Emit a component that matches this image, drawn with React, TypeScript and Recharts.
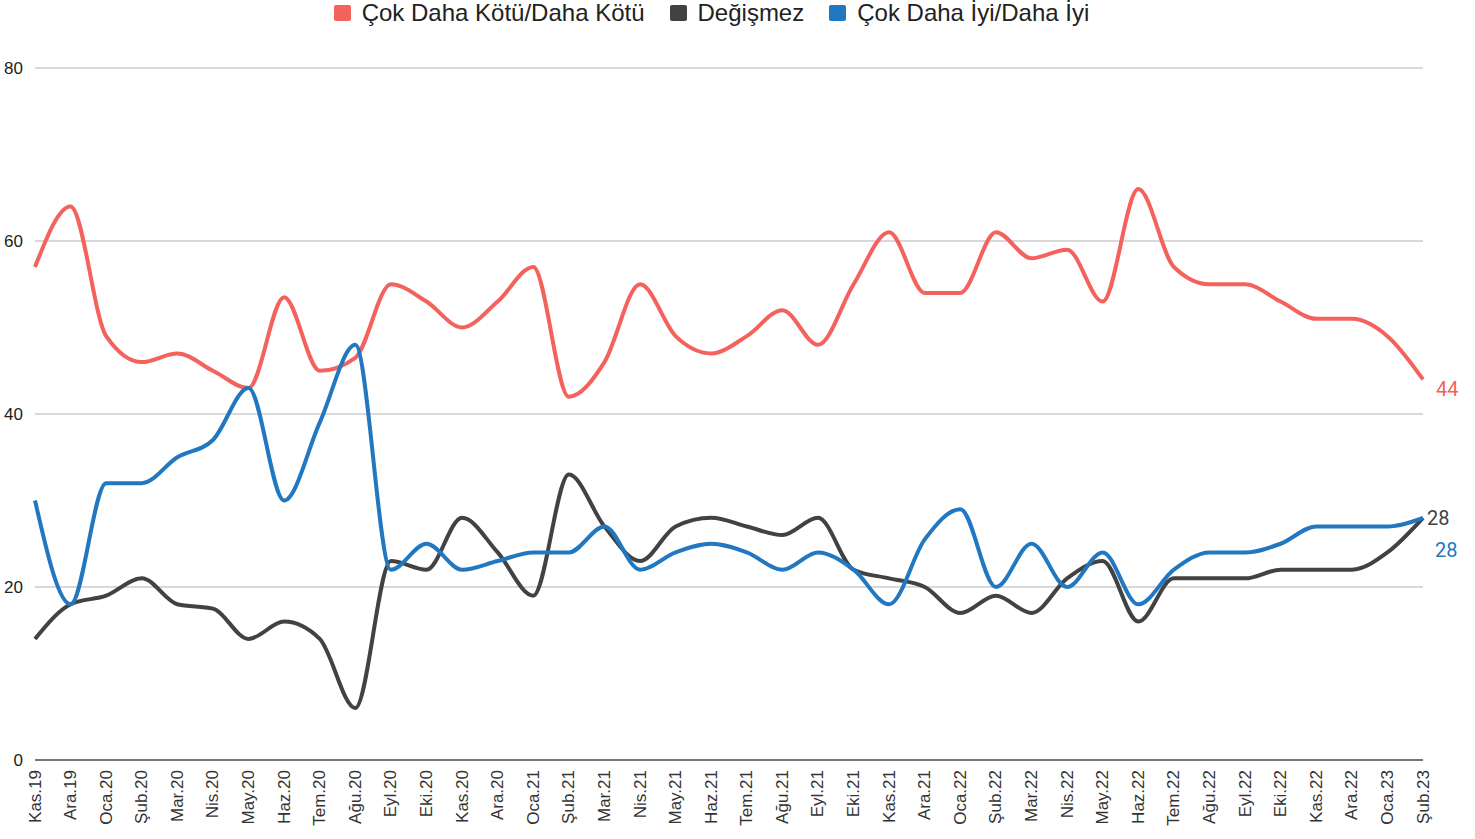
import { LineChart, Line, XAxis, YAxis, CartesianGrid, ReferenceLine, LabelList, Legend } from "recharts";

// Monthly survey answers, Kas.19 - Şub.23 (percent of respondents).
const months = [
  "Kas.19", "Ara.19", "Oca.20", "Şub.20", "Mar.20", "Nis.20", "May.20", "Haz.20", "Tem.20", "Ağu.20",
  "Eyl.20", "Eki.20", "Kas.20", "Ara.20", "Oca.21", "Şub.21", "Mar.21", "Nis.21", "May.21", "Haz.21",
  "Tem.21", "Ağu.21", "Eyl.21", "Eki.21", "Kas.21", "Ara.21", "Oca.22", "Şub.22", "Mar.22", "Nis.22",
  "May.22", "Haz.22", "Tem.22", "Ağu.22", "Eyl.22", "Eki.22", "Kas.22", "Ara.22", "Oca.23", "Şub.23",
];
const worse = [
  57, 64, 49, 46, 47, 45, 43, 53.5, 45, 46.5,
  55, 53, 50, 53, 57, 42, 46, 55, 49, 47,
  49, 52, 48, 55, 61, 54, 54, 61, 58, 59,
  53, 66, 57, 55, 55, 53, 51, 51, 49, 44,
];
const same = [
  14, 18, 19, 21, 18, 17.5, 14, 16, 14, 6,
  23, 22, 28, 24, 19, 33, 27, 23, 27, 28,
  27, 26, 28, 22, 21, 20, 17, 19, 17, 21,
  23, 16, 21, 21, 21, 22, 22, 22, 24, 28,
];
const better = [
  30, 18, 32, 32, 35, 37, 43, 30, 39, 48,
  22, 25, 22, 23, 24, 24, 27, 22, 24, 25,
  24, 22, 24, 22, 18, 25.5, 29, 20, 25, 20,
  24, 18, 22, 24, 24, 25, 27, 27, 27, 28,
];
const yTicks = [0, 20, 40, 60, 80];

const FONT = "'Liberation Sans', Arial, sans-serif";

const series = [
  { key: "worse", name: "Çok Daha Kötü/Daha Kötü", color: "#f4625e", dx: 13, dy: 10 },
  { key: "same", name: "Değişmez", color: "#424242", dx: 4, dy: 0 },
  { key: "better", name: "Çok Daha İyi/Daha İyi", color: "#2178c0", dx: 12, dy: 32 },
];

const data = months.map((month, i) => ({ month, worse: worse[i], same: same[i], better: better[i] }));

function XTick({ x, y, payload }: any) {
  return (
    <text x={x} y={y} transform={`rotate(-90 ${x} ${y})`} textAnchor="end" dominantBaseline="central"
      fill="#333" fontSize={17} fontFamily={FONT}>
      {payload.value}
    </text>
  );
}

function YTick({ y, payload }: any) {
  return (
    <text x={23} y={y} textAnchor="end" dominantBaseline="central" fill="#222" fontSize={17} fontFamily={FONT}>
      {payload.value}
    </text>
  );
}

function LegendRow() {
  return (
    <div style={{ display: "flex", justifyContent: "center", gap: 25, height: 26, lineHeight: "26px",
      fontFamily: FONT, fontSize: 24, color: "#222", whiteSpace: "nowrap" }}>
      {series.map((s) => (
        <span key={s.key} style={{ display: "flex", alignItems: "center" }}>
          <span style={{ width: 17, height: 16, background: s.color, borderRadius: 2, marginRight: 11 }} />
          {s.name}
        </span>
      ))}
    </div>
  );
}

function endLabel(color: string, dx: number, dy: number) {
  return (props: any) => {
    if (props.index !== months.length - 1) return null;
    return (
      <text x={props.x + dx} y={props.y + dy} fill={color} fontSize={20} fontFamily="Roboto, sans-serif"
        dominantBaseline="central">
        {props.value}
      </text>
    );
  };
}

export default function App() {
  return (
    <div style={{ position: "absolute", left: 0, top: 0, background: "#fff" }}>
      <LineChart width={1475} height={839} data={data} margin={{ top: 42, right: 52, left: 0, bottom: 0 }}>
        <Legend verticalAlign="top" height={26} wrapperStyle={{ top: 0 }} content={<LegendRow />} />
        <CartesianGrid vertical={false} stroke="#cccccc" strokeWidth={1.5} />
        <XAxis dataKey="month" interval={0} axisLine={false} tickLine={false} height={79} tickMargin={4}
          tick={<XTick />} />
        <YAxis domain={[0, 80]} ticks={yTicks} width={35} axisLine={false} tickLine={false} tick={<YTick />} />
        <ReferenceLine y={0} stroke="#555" strokeWidth={1.5} />
        {series.map((s) => (
          <Line key={s.key} dataKey={s.key} name={s.name} type="monotone" stroke={s.color} strokeWidth={4}
            dot={false} isAnimationActive={false}>
            <LabelList dataKey={s.key} content={endLabel(s.color, s.dx, s.dy)} />
          </Line>
        ))}
      </LineChart>
    </div>
  );
}
